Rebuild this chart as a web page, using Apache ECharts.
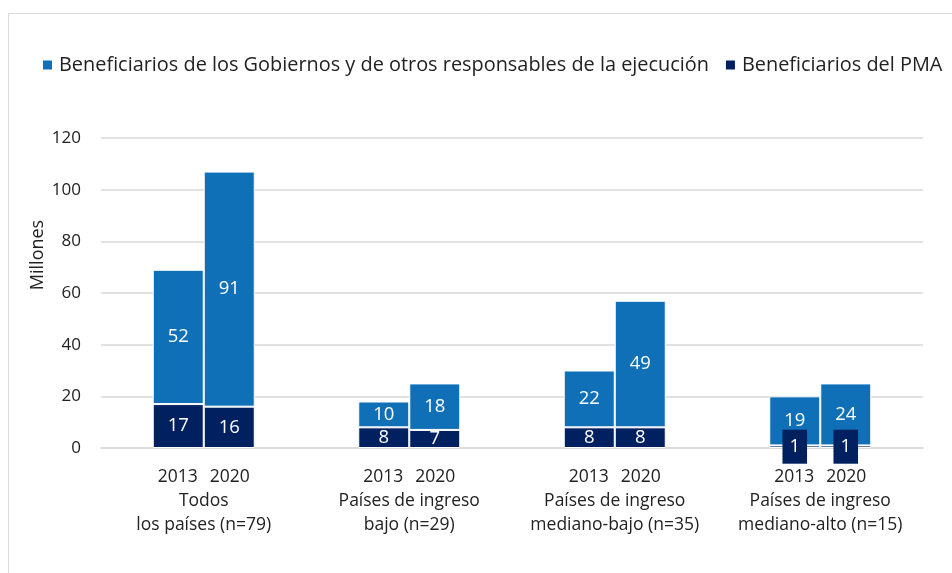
<!DOCTYPE html>
<html>
<head>
<meta charset="utf-8">
<script src="https://cdn.jsdelivr.net/npm/echarts@6/dist/echarts.min.js"></script>
<style>
  html, body { margin: 0; padding: 0; background: #fff; }
  #chart { width: 952px; height: 573px; }
</style>
</head>
<body>
<div id="chart"></div>
<script>
// datos
const anios = ['2013', '2020'];
const grupos = [
  'Todos\nlos países (n=79)',
  'Países de ingreso\nbajo (n=29)',
  'Países de ingreso\nmediano-bajo (n=35)',
  'Países de ingreso\nmediano-alto (n=15)'
];
const nombreGob = 'Beneficiarios de los Gobiernos y de otros responsables de la ejecución';
const nombrePMA = 'Beneficiarios del PMA';
const pma2013 = [17, 8, 8, 1];
const gob2013 = [52, 10, 22, 19];
const pma2020 = [16, 7, 8, 1];
const gob2020 = [91, 18, 49, 24];

const AZUL = '#0f6fb7';
const MARINO = '#002060';
const TEXTO = '#222';
const FUENTE = '"Open Sans", "Noto Sans", sans-serif';

const chart = echarts.init(document.getElementById('chart'));

// etiqueta de categoría: años bajo cada barra + nombre del grupo
const categorias = grupos.map(g => anios.map(a => '{y|' + a + '}').join('') + '\n' + g);

// las etiquetas pequeñas (valor 1) llevan caja oscura como en el original
const datosPMA = vals => vals.map(v => v < 3 ? {
  value: v,
  label: { backgroundColor: MARINO, padding: [8, 7, 7, 7] }
} : v);

const etiqueta = {
  show: true,
  position: 'inside',
  color: '#fff',
  fontSize: 18.5,
  fontFamily: FUENTE
};

const barra = (name, stack, data, color) => ({
  name,
  type: 'bar',
  stack,
  data,
  barWidth: 51,
  barGap: '0%',
  itemStyle: { color, borderColor: '#fff', borderWidth: 1 },
  label: etiqueta,
  emphasis: { disabled: true }
});

const option = {
  animation: false,
  backgroundColor: '#fff',
  textStyle: { fontFamily: FUENTE },
  graphic: [
    {
      type: 'rect',
      shape: { x: 8.5, y: 13.5, width: 1000, height: 1000 },
      style: { fill: 'none', stroke: '#d9d9d9', lineWidth: 1 },
      silent: true
    },
    {
      type: 'text',
      x: 38, y: 255,
      rotation: Math.PI / 2,
      style: {
        text: 'Millones',
        fontSize: 18,
        fontFamily: FUENTE,
        fill: TEXTO,
        align: 'center',
        verticalAlign: 'middle'
      }
    }
  ],
  legend: {
    data: [nombreGob, nombrePMA],
    left: 36,
    top: 50,
    itemWidth: 11,
    itemHeight: 11,
    itemGap: 15,
    icon: 'rect',
    textStyle: { fontSize: 19.9, color: TEXTO, fontFamily: FUENTE, padding: [0, 0, 0, 1] }
  },
  grid: { left: 101, right: 29, top: 138, bottom: 125 },
  xAxis: {
    type: 'category',
    data: categorias,
    axisLine: { show: true, lineStyle: { color: '#d9d9d9', width: 1.5 } },
    axisTick: { show: false },
    axisLabel: {
      interval: 0,
      margin: 17,
      fontSize: 17.5,
      lineHeight: 24,
      color: TEXTO,
      fontFamily: FUENTE,
      rich: {
        y: { width: 52, align: 'center', fontSize: 17.5, lineHeight: 24, color: TEXTO, fontFamily: FUENTE }
      }
    }
  },
  yAxis: {
    type: 'value',
    min: 0,
    max: 120,
    interval: 20,
    axisLine: { show: false },
    axisTick: { show: false },
    splitLine: { lineStyle: { color: '#d9d9d9', width: 1.5 } },
    axisLabel: { margin: 20, fontSize: 17, color: TEXTO, fontFamily: FUENTE }
  },
  series: [
    barra(nombrePMA, 'a2013', datosPMA(pma2013), MARINO),
    barra(nombreGob, 'a2013', gob2013, AZUL),
    barra(nombrePMA, 'a2020', datosPMA(pma2020), MARINO),
    barra(nombreGob, 'a2020', gob2020, AZUL)
  ]
};

chart.setOption(option);
</script>
</body>
</html>
